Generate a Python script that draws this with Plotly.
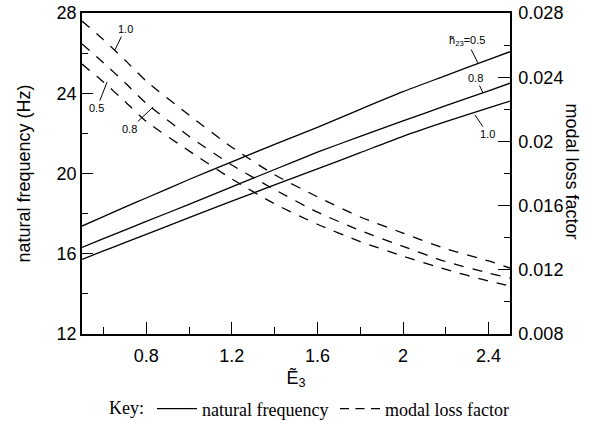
import plotly.graph_objects as go

# ---- data ----
E3 = [0.5, 0.6, 0.7, 0.8, 1.0, 1.2, 1.4, 1.6, 1.8, 2.0, 2.2, 2.4, 2.5]

freq_h05 = [17.38, 17.85, 18.32, 18.78, 19.70, 20.58, 21.45, 22.30, 23.20, 24.08, 24.88, 25.68, 26.07]
freq_h08 = [16.32, 16.75, 17.18, 17.61, 18.46, 19.33, 20.20, 21.06, 21.85, 22.62, 23.38, 24.12, 24.50]
freq_h10 = [15.72, 16.14, 16.55, 16.97, 17.80, 18.62, 19.43, 20.23, 21.04, 21.85, 22.58, 23.27, 23.61]

loss_h10 = [0.0275, 0.02634, 0.02508, 0.02376, 0.02164, 0.01964, 0.01792, 0.01655, 0.01529, 0.01429, 0.01331, 0.01255, 0.01211]
loss_h08 = [0.02607, 0.0249, 0.02367, 0.02237, 0.02032, 0.01853, 0.0170, 0.01559, 0.01445, 0.01346, 0.01251, 0.0118, 0.01149]
loss_h05 = [0.02482, 0.0237, 0.0225, 0.02125, 0.01941, 0.01766, 0.01611, 0.01484, 0.01376, 0.01285, 0.01202, 0.0113, 0.01099]

x_ticks = [0.8, 1.2, 1.6, 2.0, 2.4]
x_ticktext = ["0.8", "1.2", "1.6", "2", "2.4"]
x_minor = [0.6, 1.0, 1.4, 1.8, 2.2]
y_ticks = [12, 16, 20, 24, 28]
y_minor = [14, 18, 22, 26]
y2_ticks = [0.008, 0.012, 0.016, 0.020, 0.024, 0.028]
y2_ticktext = ["0.008", "0.012", "0.016", "0.02", "0.024", "0.028"]
y2_minor = [0.010, 0.014, 0.018, 0.022, 0.026]

SANS = "Liberation Sans, Arial, sans-serif"
SERIF = "Liberation Serif, Times New Roman, serif"
LW = 1.3
DASH = "10px,9px"
KEY_DASH = "9px,6.5px"

fig = go.Figure()

for ys in [freq_h05, freq_h08, freq_h10]:
    fig.add_trace(go.Scatter(
        x=E3, y=ys, mode="lines", yaxis="y",
        line=dict(color="black", width=LW, shape="spline", smoothing=0.6),
        showlegend=False))

for ys in [loss_h10, loss_h08, loss_h05]:
    fig.add_trace(go.Scatter(
        x=E3, y=ys, mode="lines", yaxis="y2",
        line=dict(color="black", width=LW, dash=DASH, shape="spline", smoothing=0.6),
        showlegend=False))

# key entries (legend only)
fig.add_trace(go.Scatter(x=[None], y=[None], mode="lines", name="natural frequency",
                         line=dict(color="black", width=1.2)))
fig.add_trace(go.Scatter(x=[None], y=[None], mode="lines", name="modal loss factor",
                         line=dict(color="black", width=1.2, dash=KEY_DASH)))

ann_font = dict(family=SANS, size=11, color="black")
annotations = [
    # solid curve labels (left axis)
    dict(x=2.350, y=25.51, ax=2.299, ay=26.6, xref="x", yref="y", axref="x", ayref="y",
         text="h\u0303<sub>23</sub>=0.5"),
    dict(x=2.374, y=24.01, ax=2.341, ay=24.76, xref="x", yref="y", axref="x", ayref="y",
         text="0.8"),
    dict(x=2.336, y=22.92, ax=2.397, ay=21.97, xref="x", yref="y", axref="x", ayref="y",
         text="1.0"),
    # dashed curve labels (right axis)
    dict(x=0.654, y=0.0257, ax=0.701, ay=0.0270, xref="x", yref="y2", axref="x", ayref="y2",
         text="1.0"),
    dict(x=0.617, y=0.0237, ax=0.570, ay=0.02208, xref="x", yref="y2", axref="x", ayref="y2",
         text="0.5"),
    dict(x=0.832, y=0.02214, ax=0.724, ay=0.02077, xref="x", yref="y2", axref="x", ayref="y2",
         text="0.8"),
]
for a in annotations:
    a.update(showarrow=True, arrowhead=0, arrowwidth=1, arrowcolor="black",
             font=ann_font, standoff=0, startstandoff=0)

annotations.append(dict(
    text="modal loss factor", textangle=90, xref="paper", yref="paper",
    x=1.145, y=0.506, showarrow=False, xanchor="center", yanchor="middle",
    font=dict(family=SANS, size=18, color="black")))

fig.update_layout(
    template="none",
    width=592, height=421,
    margin=dict(l=82, r=82, t=13, b=87, autoexpand=False),
    paper_bgcolor="white", plot_bgcolor="white",
    font=dict(family=SANS, size=18, color="black"),
    annotations=annotations,
    legend=dict(
        orientation="h", xref="container", yref="container",
        x=0.1807, xanchor="left", y=0.0285, yanchor="middle",
        font=dict(family=SERIF, size=18, color="black"),
        title=dict(text="Key:", side="left", font=dict(family=SERIF, size=18, color="black")),
        bgcolor="rgba(0,0,0,0)", itemwidth=40,
        entrywidth=128, entrywidthmode="pixels",
    ),
    xaxis=dict(
        range=[0.5, 2.5], tickvals=x_ticks, ticktext=x_ticktext, automargin=False,
        ticks="inside", ticklen=12, tickwidth=1.3, tickcolor="black",
        minor=dict(tickvals=x_minor, ticks="inside", ticklen=7, tickwidth=1.3, tickcolor="black",
                   showgrid=False),
        showline=True, linecolor="black", linewidth=1.5, mirror=True,
        showgrid=False, zeroline=False, ticklabeloverflow="allow", ticklabelstandoff=5,
        tickfont=dict(family=SANS, size=18, color="black"),
        title=dict(text="E\u0303<sub>3</sub>", standoff=10,
                   font=dict(family=SANS, size=18, color="black")),
    ),
    yaxis=dict(
        range=[12, 28], tickvals=y_ticks, automargin=False,
        ticks="inside", ticklen=11, tickwidth=1.3, tickcolor="black",
        minor=dict(tickvals=y_minor, ticks="inside", ticklen=6, tickwidth=1.3, tickcolor="black",
                   showgrid=False),
        showline=True, linecolor="black", linewidth=1.5, mirror=True,
        showgrid=False, zeroline=False, ticklabeloverflow="allow",
        tickfont=dict(family=SANS, size=18, color="black"),
        title=dict(text="natural frequency (Hz)", standoff=21,
                   font=dict(family=SANS, size=18, color="black")),
    ),
    yaxis2=dict(
        range=[0.008, 0.028], tickvals=y2_ticks, ticktext=y2_ticktext, automargin=False,
        overlaying="y", side="right",
        ticks="inside", ticklen=12, tickwidth=1.3, tickcolor="black",
        minor=dict(tickvals=y2_minor, ticks="inside", ticklen=6, tickwidth=1.3, tickcolor="black",
                   showgrid=False),
        showline=True, linecolor="black", linewidth=1.5,
        showgrid=False, zeroline=False, ticklabeloverflow="allow", ticklabelstandoff=3,
        tickfont=dict(family=SANS, size=18, color="black"),
    ),
)

fig.write_html("out.html", config={"displayModeBar": False},
               post_script="document.body.style.margin='0';")
